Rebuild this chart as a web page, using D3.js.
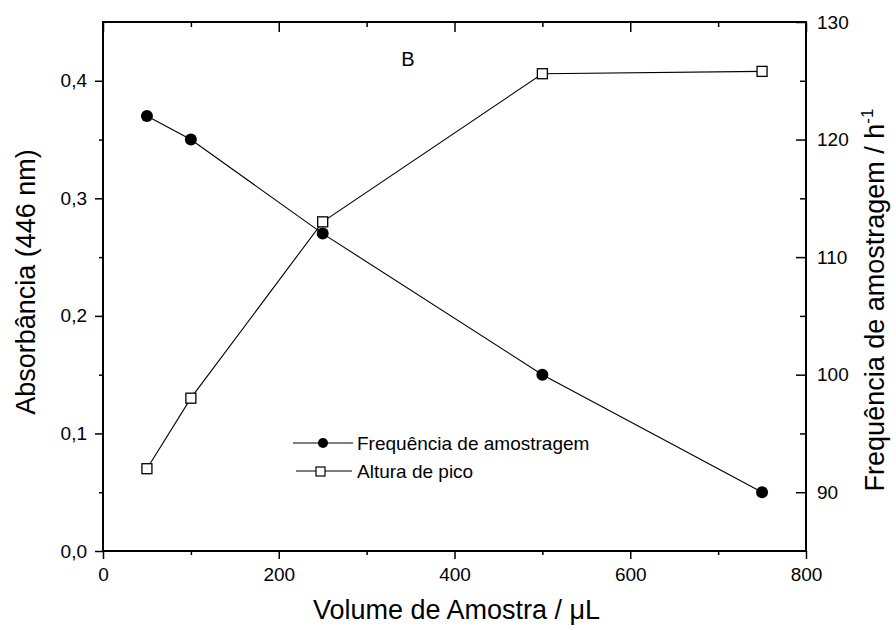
<!DOCTYPE html>
<html>
<head>
<meta charset="utf-8">
<script src="https://cdn.jsdelivr.net/npm/d3@7"></script>
<style>
  body { margin: 0; background: #fff; }
  svg { font-family: Arial, "Liberation Sans", sans-serif; }
</style>
</head>
<body>
<script>
// data
const volume = [50, 100, 250, 500, 750];
const frequencia = [122, 120, 112, 100, 90];          // right axis, h^-1
const altura = [0.070, 0.130, 0.280, 0.406, 0.408];   // left axis, absorbance

const xTicks = [0, 200, 400, 600, 800];
const yLeftTicks = [0, 0.1, 0.2, 0.3, 0.4];
const yRightTicks = [90, 100, 110, 120, 130];

const width = 896, height = 630;
const mLeft = 103, mRight = 806, mTop = 22, mBottom = 551;

const svg = d3.select('body')
              .append('svg')
              .attr('width', width)
              .attr('height', height);

const x = d3.scaleLinear([0, 800], [mLeft, mRight]);
const yL = d3.scaleLinear([0, 0.45], [mBottom, mTop]);
const yR = d3.scaleLinear([85, 130], [mBottom, mTop]);

const comma = d => d3.format('.1f')(d).replace('.', ',');

function styleAxis(g) {
    g.select('.domain').remove();
    g.selectAll('line').attr('stroke', '#000').attr('stroke-width', 1.5);
    g.selectAll('text').attr('fill', '#000').style('font-size', '19px');
}

// minor ticks
const xMinor = [100, 300, 500, 700];
const yLMinor = [0.05, 0.15, 0.25, 0.35];
const yRMinor = [95, 105, 115, 125];

svg.append('g').attr('transform', `translate(0,${mBottom})`)
   .call(d3.axisBottom(x).tickValues(xMinor).tickSize(4).tickFormat(''))
   .call(styleAxis);
svg.append('g').attr('transform', `translate(0,${mBottom})`)
   .call(d3.axisBottom(x).tickValues(xTicks).tickSize(8).tickPadding(9))
   .call(styleAxis);

svg.append('g').attr('transform', `translate(0,${mTop})`)
   .call(d3.axisTop(x).tickValues(xMinor).tickSize(-5).tickFormat(''))
   .call(styleAxis);
svg.append('g').attr('transform', `translate(0,${mTop})`)
   .call(d3.axisTop(x).tickValues(xTicks).tickSize(-10).tickFormat(''))
   .call(styleAxis);

svg.append('g').attr('transform', `translate(${mLeft},0)`)
   .call(d3.axisLeft(yL).tickValues(yLMinor).tickSize(4).tickFormat(''))
   .call(styleAxis);
svg.append('g').attr('transform', `translate(${mLeft},0)`)
   .call(d3.axisLeft(yL).tickValues(yLeftTicks).tickSize(8).tickPadding(8).tickFormat(comma))
   .call(styleAxis);

svg.append('g').attr('transform', `translate(${mRight},0)`)
   .call(d3.axisRight(yR).tickValues(yRMinor).tickSize(-6).tickFormat(''))
   .call(styleAxis);
svg.append('g').attr('transform', `translate(${mRight},0)`)
   .call(d3.axisRight(yR).tickValues(yRightTicks).tickSize(-10).tickPadding(11))
   .call(styleAxis);

// frame
svg.append('rect')
   .attr('x', mLeft).attr('y', mTop)
   .attr('width', mRight - mLeft).attr('height', mBottom - mTop)
   .attr('fill', 'none').attr('stroke', '#000').attr('stroke-width', 2);

// series lines
const lineF = d3.line().x((d, i) => x(volume[i])).y(d => yR(d));
const lineA = d3.line().x((d, i) => x(volume[i])).y(d => yL(d));

svg.append('path').datum(frequencia)
   .attr('d', lineF).attr('fill', 'none').attr('stroke', '#000').attr('stroke-width', 1.1);
svg.append('path').datum(altura)
   .attr('d', lineA).attr('fill', 'none').attr('stroke', '#000').attr('stroke-width', 1.1);

svg.selectAll('.pt-a')
   .data(altura)
   .join('rect')
     .attr('class', 'pt-a')
     .attr('x', (d, i) => x(volume[i]) - 5)
     .attr('y', d => yL(d) - 5)
     .attr('width', 10).attr('height', 10)
     .attr('fill', '#fff').attr('stroke', '#000').attr('stroke-width', 1.3);

svg.selectAll('.pt-f')
   .data(frequencia)
   .join('circle')
     .attr('class', 'pt-f')
     .attr('cx', (d, i) => x(volume[i]))
     .attr('cy', d => yR(d))
     .attr('r', 6)
     .attr('fill', '#000');

// legend
const lg = svg.append('g');
lg.append('line').attr('x1', 293).attr('x2', 353).attr('y1', 443).attr('y2', 443)
  .attr('stroke', '#000').attr('stroke-width', 1.1);
lg.append('circle').attr('cx', 323).attr('cy', 443).attr('r', 5).attr('fill', '#000');
lg.append('text').attr('x', 357).attr('y', 450).style('font-size', '19px')
  .text('Frequência de amostragem');

lg.append('line').attr('x1', 296).attr('x2', 352).attr('y1', 471).attr('y2', 471)
  .attr('stroke', '#000').attr('stroke-width', 1.1);
lg.append('rect').attr('x', 316).attr('y', 467).attr('width', 9).attr('height', 9)
  .attr('fill', '#fff').attr('stroke', '#000').attr('stroke-width', 1.2);
lg.append('text').attr('x', 357).attr('y', 478).style('font-size', '19px')
  .text('Altura de pico');

// panel label
svg.append('text').attr('x', 408).attr('y', 66)
   .attr('text-anchor', 'middle').style('font-size', '20px').text('B');

// axis titles
svg.append('text')
   .attr('x', (mLeft + mRight) / 2 + 2).attr('y', 619)
   .attr('text-anchor', 'middle').style('font-size', '27px')
   .text('Volume de Amostra / μL');

svg.append('text')
   .attr('transform', 'translate(35,282) rotate(-90)')
   .attr('text-anchor', 'middle').style('font-size', '27px')
   .text('Absorbância (446 nm)');

const rt = svg.append('text')
   .attr('transform', 'translate(884,300) rotate(-90)')
   .attr('text-anchor', 'middle').style('font-size', '27px');
rt.append('tspan').text('Frequência de amostragem / h');
rt.append('tspan').attr('dy', -11).style('font-size', '17px').text('-1');
</script>
</body>
</html>
